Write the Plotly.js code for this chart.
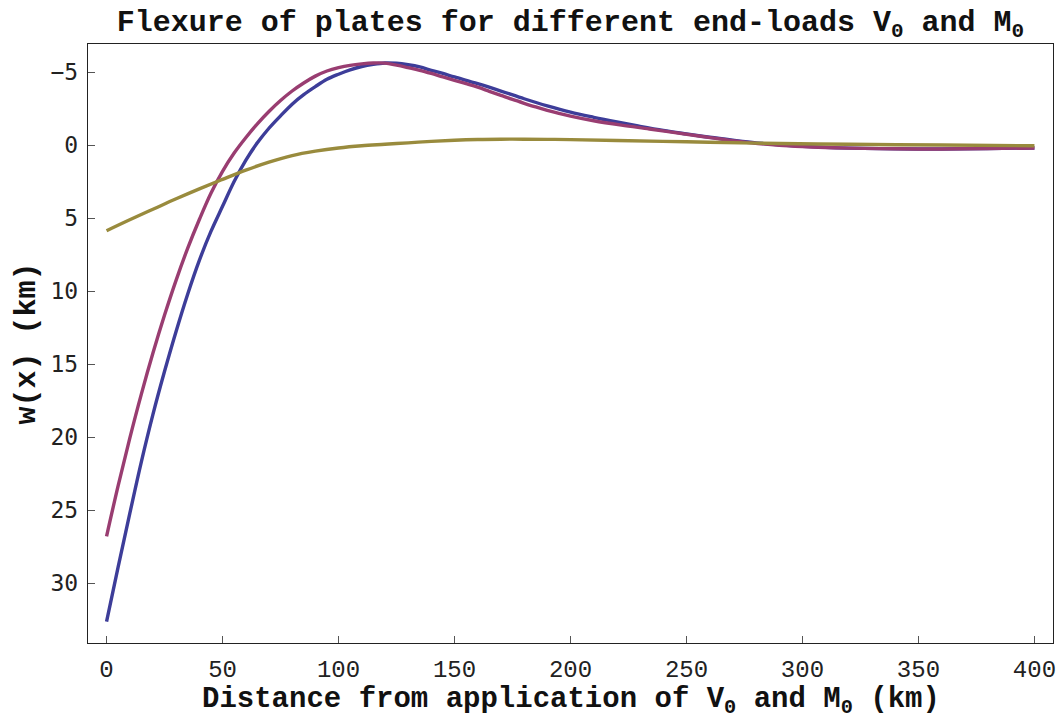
<!DOCTYPE html>
<html>
<head>
<meta charset="utf-8">
<script src="https://cdn.plot.ly/plotly-3.0.1.min.js"></script>
<style>html,body{margin:0;padding:0;background:#fff;}#chart{width:1060px;height:719px;}</style>
</head>
<body>
<div id="chart"></div>
<script>
// Distance (km) and deflection w(x) (km)
const xBlue = [0, 5, 10, 15, 20, 25, 30, 35, 40, 45, 50, 55, 60, 65, 70, 75, 80, 85, 90, 95, 100, 105, 110, 115, 120, 125, 130, 135, 140, 145, 150, 160, 170, 180, 190, 200, 210, 220, 230, 240, 250, 260, 270, 280, 290, 300, 310, 320, 340, 360, 380, 400];
const wBlue = [32.65, 28.9, 25.25, 21.7, 18.45, 15.5, 12.75, 10.2, 7.9, 5.92, 4.2, 2.5, 1.05, -0.15, -1.15, -2.0, -2.8, -3.45, -4.0, -4.5, -4.85, -5.15, -5.38, -5.53, -5.62, -5.6, -5.5, -5.35, -5.12, -4.9, -4.66, -4.2, -3.7, -3.17, -2.68, -2.25, -1.9, -1.58, -1.28, -1.0, -0.76, -0.53, -0.33, -0.15, -0.02, 0.08, 0.16, 0.21, 0.26, 0.27, 0.24, 0.2];

const xPurple = [0, 5, 10, 15, 20, 25, 30, 35, 40, 45, 50, 55, 60, 65, 70, 75, 80, 85, 90, 95, 100, 105, 110, 115, 120, 125, 130, 135, 140, 145, 150, 155, 160, 165, 170, 175, 180, 185, 190, 195, 200, 210, 222, 234, 245, 256, 267, 278, 290, 300, 310, 320, 340, 360, 380, 400];
const wPurple = [26.8, 23.33, 20.09, 17.06, 14.25, 11.65, 9.25, 7.06, 5.1, 3.3, 1.8, 0.55, -0.5, -1.45, -2.3, -3.05, -3.7, -4.25, -4.72, -5.07, -5.3, -5.46, -5.56, -5.62, -5.61, -5.47, -5.3, -5.12, -4.9, -4.66, -4.43, -4.2, -3.96, -3.68, -3.4, -3.12, -2.86, -2.61, -2.38, -2.17, -1.98, -1.66, -1.36, -1.1, -0.85, -0.6, -0.36, -0.15, 0.02, 0.11, 0.17, 0.21, 0.26, 0.27, 0.24, 0.2];

const xOlive = [0, 10, 20, 30, 40, 50, 60, 70, 80, 90, 100, 110, 120, 130, 140, 150, 160, 170, 180, 190, 200, 220, 250, 280, 320, 360, 400];
const wOlive = [5.87, 5.12, 4.4, 3.68, 3.0, 2.35, 1.72, 1.17, 0.72, 0.42, 0.2, 0.05, -0.05, -0.15, -0.25, -0.33, -0.38, -0.4, -0.4, -0.39, -0.37, -0.31, -0.22, -0.13, -0.05, 0.0, 0.05];

const xTicks = [0, 50, 100, 150, 200, 250, 300, 350, 400];
const yTicks = [-5, 0, 5, 10, 15, 20, 25, 30];
const yTickText = ['\u22125', '0', '5', '10', '15', '20', '25', '30'];

const titleText = 'Flexure of plates for different end-loads V<sub>0</sub> and M<sub>0</sub>';
const xTitleText = 'Distance from application of V<sub>0</sub> and M<sub>0</sub> (km)';
const yTitleText = 'w(x) (km)';

const colors = ['#3d3d99', '#993d71', '#998b3d'];
const boldFont = {family: 'Liberation Mono, monospace', size: 30, color: '#111', weight: 'bold'};
const xTitleFont = {family: 'Liberation Mono, monospace', size: 29, color: '#111', weight: 'bold'};

const traces = [
  {x: xBlue, y: wBlue, name: 'blue'},
  {x: xPurple, y: wPurple, name: 'purple'},
  {x: xOlive, y: wOlive, name: 'olive'}
].map((t, i) => Object.assign(t, {
  type: 'scatter', mode: 'lines',
  line: {color: colors[i], width: 3.4, shape: 'spline', smoothing: 1},
  hoverinfo: 'x+y'
}));

const layout = {
  width: 1060, height: 719,
  paper_bgcolor: '#ffffff', plot_bgcolor: '#ffffff',
  showlegend: false,
  margin: {l: 88, r: 7, t: 44, b: 76},
  title: {
    text: titleText,
    font: boldFont,
    x: 0.5, xref: 'paper', xanchor: 'center',
    y: 1 - 20 / 719, yref: 'container', yanchor: 'middle'
  },
  xaxis: {
    range: [-8, 408],
    tickvals: xTicks,
    ticktext: xTicks.map(String),
    ticks: 'inside', ticklen: 7, tickwidth: 1, tickcolor: '#555',
    showline: true, linecolor: '#222', linewidth: 1.3, mirror: true,
    showgrid: false, zeroline: false,
    tickfont: {family: 'Liberation Mono, monospace', size: 24, color: '#222'},
    ticklabelstandoff: 4
  },
  yaxis: {
    range: [34.11, -6.92],
    tickvals: yTicks,
    ticktext: yTickText,
    ticks: 'inside', ticklen: 7, tickwidth: 1, tickcolor: '#555',
    showline: true, linecolor: '#222', linewidth: 1.3, mirror: true,
    showgrid: false, zeroline: false,
    tickfont: {family: 'DejaVu Sans Mono, monospace', size: 23, color: '#222'},
    ticklabelstandoff: 4,
    title: {text: yTitleText, font: boldFont, standoff: 6}
  },
  annotations: [{
    text: xTitleText, font: xTitleFont, showarrow: false,
    xref: 'paper', x: 0.5, xanchor: 'center',
    yref: 'paper', y: -(701 - 643) / 599, yanchor: 'middle'
  }]
};

Plotly.newPlot('chart', traces, layout, {displayModeBar: false, staticPlot: true});
</script>
</body>
</html>
